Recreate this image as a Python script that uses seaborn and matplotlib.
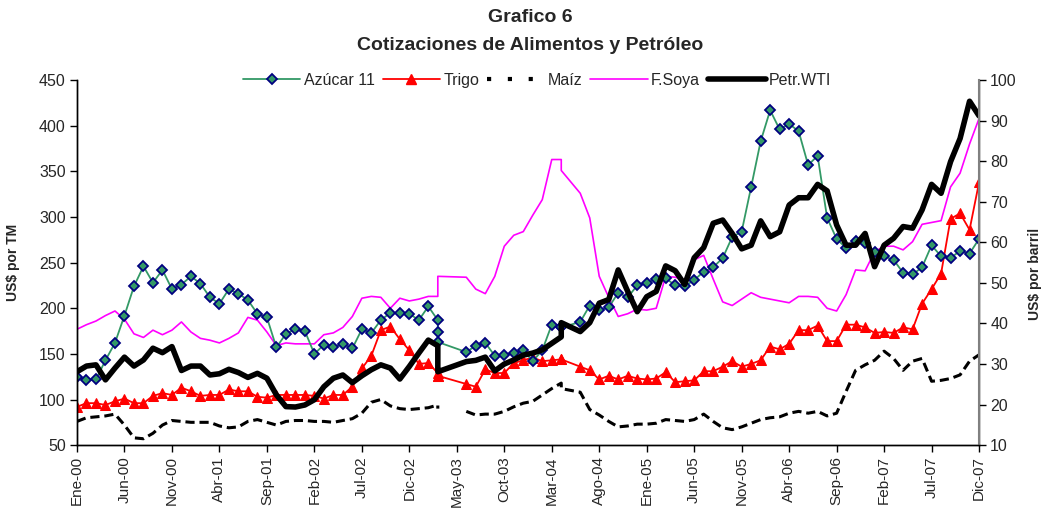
import numpy as np
import pandas as pd
import seaborn as sns
import matplotlib.pyplot as plt
import matplotlib.lines as mline

# month index (0 = Ene-00); Mar-03 and Mar-04 hold extra rows in the source
mes = list(range(0, 39)) + [38, 38] + list(range(41, 52)) + [51] + list(range(53, 96))

azucar = [125, 121, 122, 143, 162, 192, 224, 246, 228, 242, 221, 226, 235, 227, 212, 205, 221,
          216, 209, 194, 190, 157, 172, 177, 175, 150, 160, 157, 161, 156, 177, 173, 187,
          195, 195, 194, 187, 202,
          187, 174, 163,
          152, 159, 162, 148, 149, 151, 154, 142, 154, 182, 179,
          179,
          185, 203, 198, 201, 217, 212, 225, 228, 232, 233, 225,
          224, 231, 240, 245, 255, 278, 284, 333, 383, 417, 396, 402, 394, 357, 367, 299,
          276, 266, 274, 271, 262, 257, 253, 239, 237, 245, 269, 257, 255, 263, 260, 276]

trigo = [92, 96, 96, 94, 98, 101, 96, 96, 104, 107, 105, 113, 109, 104, 105, 105, 111,
         109, 109, 103, 102, 105, 105, 105, 105, 104, 101, 105, 105, 114, 134, 148, 176,
         180, 166, 154, 139, 140,
         129, 126, 126,
         117, 114, 133, 129, 129, 140, 143, 146, 142, 143, 144,
         144,
         136, 132, 122, 126, 122, 126, 123, 122, 123, 130, 119,
         120, 121, 131, 131, 136, 142, 136, 139, 143, 158, 155, 161, 176, 176, 181, 164,
         164, 182, 182, 179, 173, 174, 173, 179, 177, 205, 221, 238, 298, 304, 286, 338]

maiz = [76, 80, 81, 82, 84, 72, 58, 57, 63, 72, 77, 76, 75, 75, 75, 71, 69,
        70, 76, 78, 75, 72, 76, 77, 77, 76, 76, 75, 77, 79, 85, 97, 100,
        93, 90, 89, 90, 91,
        94, 90, np.nan,
        87, 83, 84, 84, 87, 92, 96, 98, 105, 112, 118,
        112,
        108, 89, 83, 76, 70, 71, 73, 73, 74, 78, 77,
        76, 78, 84, 76, 69, 67, 70, 74, 78, 80, 81, 85, 87, 85, 87, 82,
        85, 109, 132, 138, 143, 153, 145, 132, 142, 145, 120, 121, 123, 127, 142, 149]

soya = [177, 182, 186, 192, 197, 188, 172, 168, 176, 171, 176, 185, 174, 167, 165, 162, 167,
        173, 190, 187, 174, 159, 162, 161, 161, 161, 171, 173, 179, 191, 211, 213, 212,
        200, 211, 208, 210, 213,
        213, 235, 235,
        234, 221, 216, 235, 268, 280, 284, 302, 319, 363, 363,
        351,
        326, 299, 235, 212, 191, 194, 199, 198, 200, 235, 234,
        231, 253, 258, 232, 207, 203, 210, 217, 212, 210, 208, 206, 213, 213, 212, 200,
        197, 215, 242, 241, 262, 268, 268, 264, 273, 292, 294, 296, 333, 348, 380, 408]

wti = [28.1, 29.5, 29.8, 26.1, 29.0, 31.7, 29.5, 31.0, 33.9, 32.8, 34.3, 28.4, 29.5, 29.5, 27.3, 27.6, 28.7,
       27.9, 26.7, 27.7, 26.5, 22.4, 19.5, 19.4, 19.9, 21.2, 24.4, 26.5, 27.3, 25.4, 27.1, 28.6, 29.8,
       29.0, 26.3, 29.4, 32.7, 35.9,
       34.5, 28.2, 28.1,
       30.6, 30.9, 31.7, 28.3, 30.0, 31.0, 32.2, 32.7, 33.5, 35.1, 36.7,
       40.2,
       38.0, 40.2, 45.0, 45.9, 53.2, 47.9, 42.9, 46.6, 47.9, 54.2, 53.0,
       49.6, 56.2, 58.7, 64.7, 65.5, 62.2, 58.4, 59.3, 65.3, 61.4, 62.6, 69.2, 71.0, 71.0, 74.3, 72.7,
       64.3, 59.3, 59.3, 62.2, 54.0, 59.3, 61.0, 63.9, 63.5, 68.0, 74.3, 72.1, 79.9, 85.6, 94.8, 91.2]

etiquetas = ['Ene-00', 'Jun-00', 'Nov-00', 'Abr-01', 'Sep-01', 'Feb-02', 'Jul-02', 'Dic-02',
             'May-03', 'Oct-03', 'Mar-04', 'Ago-04', 'Ene-05', 'Jun-05', 'Nov-05', 'Abr-06',
             'Sep-06', 'Feb-07', 'Jul-07', 'Dic-07']

df = pd.DataFrame({'mes': mes, 'azucar': azucar, 'trigo': trigo, 'maiz': maiz,
                   'soya': soya, 'wti': wti})
# the corn series is broken after the Mar-03 rows
df['tramo'] = (df.index > 40).astype(int)

sns.set_theme(style="ticks")
plt.rcParams['font.family'] = ['Liberation Sans', 'DejaVu Sans']

fig = plt.figure(figsize=(10.46, 5.17), dpi=100)
ax = fig.add_axes([0.0736, 0.139, 0.8624, 0.706])
ax2 = ax.twinx()

verde = '#339966'
sns.lineplot(data=df, x='mes', y='soya', ax=ax, color='#FF00FF', lw=1.2, estimator=None, sort=False)
sns.lineplot(data=df, x='mes', y='maiz', units='tramo', ax=ax, color='black', lw=2.2,
             ls=(0, (3, 1.6)), estimator=None, sort=False)
sns.lineplot(data=df, x='mes', y='trigo', ax=ax, color='#FF0000', lw=1.3, estimator=None, sort=False,
             marker='^', markersize=7.5, markerfacecolor='#FF0000', markeredgecolor='#FF0000')
sns.lineplot(data=df, x='mes', y='azucar', ax=ax, color=verde, lw=1.3, estimator=None, sort=False,
             marker='D', markersize=5.5, markerfacecolor=verde, markeredgecolor='#000080',
             markeredgewidth=1.3)
sns.lineplot(data=df, x='mes', y='wti', ax=ax2, color='black', lw=4, estimator=None, sort=False)

ax.set_xlim(0, 95)
ax.set_ylim(50, 450)
ax2.set_ylim(10, 100)
ax.set_yticks(range(50, 451, 50))
ax2.set_yticks(range(10, 101, 10))
ax.set_xticks(range(0, 96, 5))
ax.set_xticklabels(etiquetas, rotation=90)
ax.set_xlabel('')
ax.set_ylabel('US$ por TM', fontsize=10, fontweight='bold')
ax2.set_ylabel('US$ por barril', fontsize=10, fontweight='bold')
ax.yaxis.set_label_coords(-0.063, 0.5)
ax2.yaxis.set_label_coords(1.054, 0.47)

for a in (ax, ax2):
    a.tick_params(labelsize=11.5, length=5, width=1, color='black', pad=3)
    a.spines['top'].set_visible(False)
    for s in a.spines.values():
        s.set_color('black')
        s.set_linewidth(1)
ax.tick_params(axis='x', labelsize=11)
ax2.spines['right'].set_color('#808080')
ax2.spines['right'].set_linewidth(1.5)

fig.text(0.507, 0.966, 'Grafico 6', ha='center', va='center', fontsize=14, fontweight='bold')
fig.text(0.507, 0.912, 'Cotizaciones de Alimentos y Petróleo', ha='center', va='center',
         fontsize=14, fontweight='bold')

# legend keys
h_az = mline.Line2D([], [], color=verde, lw=1.3, marker='D', markersize=5.5,
                    markerfacecolor=verde, markeredgecolor='#000080', markeredgewidth=1.3, label='Azúcar 11')
h_tr = mline.Line2D([], [], color='#FF0000', lw=1.3, marker='^', markersize=7.5, label='Trigo')
h_ma = mline.Line2D([], [], color='black', lw=3, ls=(0, (1, 4)), label='Maíz')
h_so = mline.Line2D([], [], color='#FF00FF', lw=1.2, label='F.Soya')
h_wt = mline.Line2D([], [], color='black', lw=4, label='Petr.WTI')
ax2.legend(handles=[h_az, h_tr, h_ma, h_so, h_wt], loc='center', bbox_to_anchor=(0.51, 1.0),
           ncol=5, frameon=False, fontsize=11.5, handlelength=3.6, handletextpad=0.2,
           columnspacing=0.5)

fig.savefig('out.png', dpi=100)
